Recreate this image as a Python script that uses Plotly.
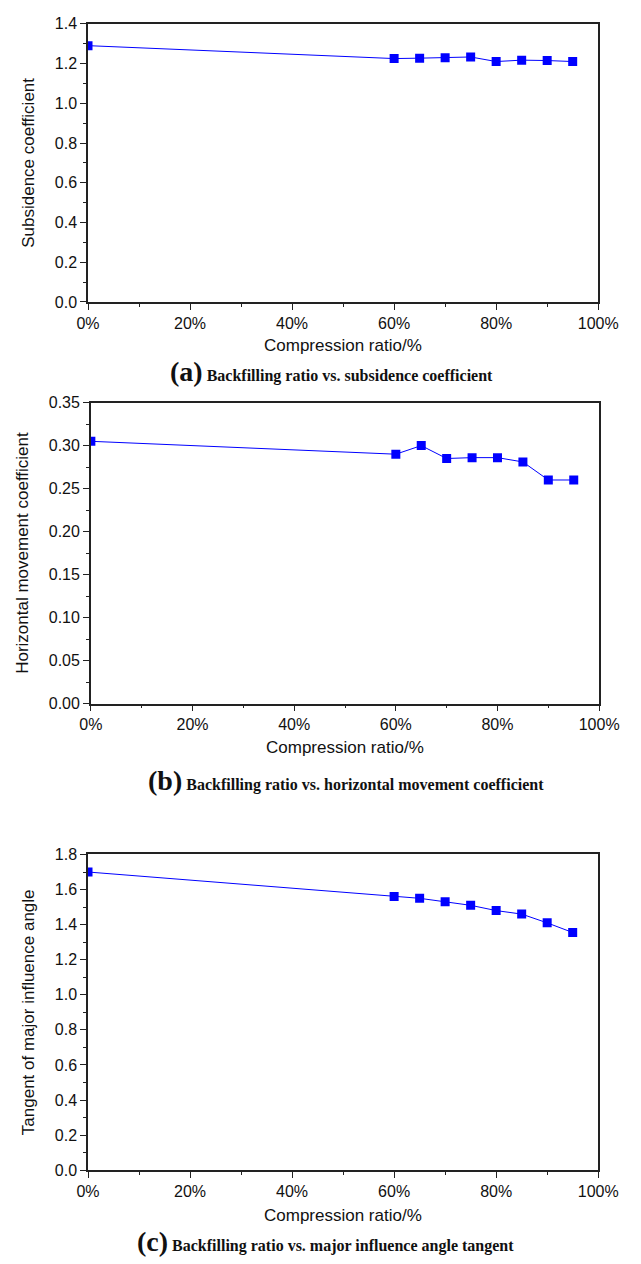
import plotly.graph_objects as go
from plotly.subplots import make_subplots

compression = [0, 60, 65, 70, 75, 80, 85, 90, 95]
subsidence = [1.29, 1.225, 1.227, 1.229, 1.233, 1.21, 1.217, 1.215, 1.21]
horizontal = [0.305, 0.29, 0.30, 0.285, 0.286, 0.286, 0.281, 0.26, 0.26]
tangent = [1.70, 1.56, 1.55, 1.53, 1.51, 1.48, 1.46, 1.41, 1.355]

y_titles = ["Subsidence coefficient", "Horizontal movement coefficient", "Tangent of major influence angle"]
y_ranges = [[0, 1.4], [0, 0.35], [0, 1.8]]
y_dticks = [0.2, 0.05, 0.2]
y_formats = [".1f", ".2f", ".1f"]
captions = [("(a)", "Backfilling ratio vs. subsidence coefficient"),
            ("(b)", "Backfilling ratio vs. horizontal movement coefficient"),
            ("(c)", "Backfilling ratio vs. major influence angle tangent")]
x_title = "Compression ratio/%"

W, H = 641, 1264
# pixel layout (top, bottom of plot area), x extents
panels = [
    dict(x0=80, x1=617, top=16, bot=298, title=342, cap=368, capx=336),
    dict(x0=83, x1=618, top=400, bot=705, title=750, cap=783, capx=352),
    dict(x0=80, x1=617, top=858, bot=1178, title=1224, cap=1250, capx=330),
]

def px(x):
    return x / W

def py(y):
    return 1 - y / H

SANS = "Liberation Sans, Arial, Helvetica"
SERIF = "Liberation Serif, Times New Roman"

fig = make_subplots(rows=3, cols=1)
series = [subsidence, horizontal, tangent]
for i, (ys, p) in enumerate(zip(series, panels)):
    fig.add_trace(go.Scatter(
        x=compression, y=ys, mode="lines+markers",
        line=dict(color="#0000ff", width=1),
        marker=dict(symbol="square", size=9, color="#0000ff"),
        showlegend=False,
    ), row=i + 1, col=1)
    ax = "" if i == 0 else str(i + 1)
    fig.layout["xaxis" + ax].update(
        domain=[px(p["x0"]), px(p["x1"])], range=[0, 100], dtick=20,
        ticksuffix="%", ticks="outside", ticklen=6, tickcolor="#222",
        minor=dict(ticks="outside", ticklen=3, dtick=10, tickcolor="#222"),
        showline=True, linecolor="#222", linewidth=1.5, mirror=True,
        showgrid=False, zeroline=False, ticklabeloverflow="allow",
        tickfont=dict(family=SANS, size=16, color="#111"),
    )
    fig.layout["yaxis" + ax].update(
        domain=[py(p["bot"]), py(p["top"])], range=y_ranges[i],
        dtick=y_dticks[i], tickformat=y_formats[i],
        ticks="outside", ticklen=6, tickcolor="#222",
        minor=dict(ticks="outside", ticklen=3, dtick=y_dticks[i] / 2, tickcolor="#222"),
        showline=True, linecolor="#222", linewidth=1.5, mirror=True,
        showgrid=False, zeroline=False, ticklabeloverflow="allow",
        tickfont=dict(family=SANS, size=16, color="#111"),
        title=dict(text=y_titles[i], font=dict(family=SANS, size=17, color="#111"), standoff=16),
    )
    fig.add_annotation(
        x=px((p["x0"] + p["x1"]) / 2), y=py(p["title"]), xref="paper", yref="paper",
        text=x_title, showarrow=False, xanchor="center", yanchor="middle",
        font=dict(family=SANS, size=17, color="#111"),
    )
    lab, cap = captions[i]
    fig.add_annotation(
        x=px(p["capx"]), y=py(p["cap"]), xref="paper", yref="paper",
        text="<span style='font-size:28px'><b>" + lab + "</b></span> <b>" + cap + "</b>",
        showarrow=False, xanchor="center", yanchor="middle",
        font=dict(family=SERIF, size=16, color="#111"),
    )

fig.update_layout(
    width=W, height=H, autosize=False,
    margin=dict(l=0, r=0, t=0, b=0),
    paper_bgcolor="white", plot_bgcolor="white",
)
fig.write_html(
    "out.html",
    config={"displayModeBar": False},
    post_script="document.body.style.margin='0';document.body.style.overflow='hidden';",
)
